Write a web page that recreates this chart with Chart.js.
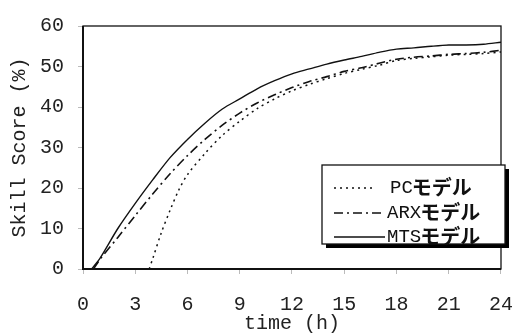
<!DOCTYPE html>
<html>
<head>
<meta charset="utf-8">
<script src="https://cdn.jsdelivr.net/npm/chart.js@4/dist/chart.umd.min.js"></script>
<style>
    body { margin: 0; background: #fff; }
    #wrap { width: 532px; height: 336px; }
</style>
</head>
<body>
<div id="wrap"><canvas id="skillChart" width="532" height="336"></canvas></div>
<script>
// Values (time in hours, skill score in %)
const pcHours  = [3.8, 4, 4.5, 5, 5.5, 6, 7, 8, 9, 10, 11, 12, 13, 14, 15, 16, 17, 18, 19, 20, 21, 22, 23, 24];
const pcScore  = [0, 2.5, 9, 14.5, 19.5, 23.3, 28.5, 33, 36.5, 39.6, 42, 44, 45.6, 47, 48.3, 49.3, 50.3, 51.5, 52, 52.4, 52.8, 53, 53.2, 53.6];

const arxHours = [0.6, 1, 2, 3, 4, 5, 6, 7, 8, 9, 10, 11, 12, 13, 14, 15, 16, 17, 18, 19, 20, 21, 22, 23, 24];
const arxScore = [0, 2.5, 7.8, 13.2, 18.5, 23.5, 28, 32, 35.5, 38.5, 41, 43, 44.8, 46.3, 47.5, 48.8, 49.7, 50.8, 51.8, 52.3, 52.6, 53, 53.2, 53.5, 54];

const mtsHours = [0.5, 1, 2, 3, 4, 5, 6, 7, 8, 9, 10, 11, 12, 13, 14, 15, 16, 17, 18, 19, 20, 21, 22, 23, 24];
const mtsScore = [0, 2.8, 10, 16.2, 22, 27.5, 32, 36, 39.5, 42, 44.5, 46.5, 48.2, 49.4, 50.6, 51.6, 52.5, 53.5, 54.3, 54.6, 55, 55.3, 55.3, 55.5, 56];

const seriesNames = ['PC', 'ARX', 'MTS'];
const nameSuffix = 'モデル';

function toPoints(xs, ys) {
    return xs.map((x, i) => ({ x: x, y: ys[i] }));
}

const monoFont = '"Liberation Mono", "Courier New", monospace';

// Draws the full box around the plot area
const framePlugin = {
    id: 'frame',
    afterDatasetsDraw(chart) {
        const a = chart.chartArea;
        const ctx = chart.ctx;
        ctx.save();
        ctx.strokeStyle = '#111';
        ctx.lineWidth = 1.3;
        ctx.strokeRect(a.left, a.top, a.right - a.left, a.bottom - a.top);
        ctx.lineWidth = 2;
        ctx.beginPath();
        ctx.moveTo(a.left, a.top);
        ctx.lineTo(a.left, a.bottom);
        ctx.lineTo(a.right, a.bottom);
        ctx.stroke();
        ctx.restore();
    }
};

// Boxed legend with drop shadow inside the plot area
const boxLegendPlugin = {
    id: 'boxLegend',
    afterDraw(chart) {
        const ctx = chart.ctx;
        const x0 = 322, y0 = 165, w = 183, h = 79;
        ctx.save();
        ctx.fillStyle = '#000';
        ctx.fillRect(x0 + 4, y0 + 4, w, h);
        ctx.fillStyle = '#fff';
        ctx.fillRect(x0, y0, w, h);
        ctx.strokeStyle = '#111';
        ctx.lineWidth = 1.3;
        ctx.strokeRect(x0, y0, w, h);

        const rows = [187, 212, 236];
        const sampleEnds = [376, 385, 385];
        const textStart = [390, 387, 387];
        chart.data.datasets.forEach((ds, i) => {
            const y = rows[i];
            ctx.strokeStyle = ds.borderColor;
            ctx.lineWidth = ds.borderWidth;
            ctx.setLineDash(ds.borderDash || []);
            ctx.beginPath();
            ctx.moveTo(334, y + 1);
            ctx.lineTo(sampleEnds[i], y + 1);
            ctx.stroke();
            ctx.setLineDash([]);

            ctx.fillStyle = '#111';
            ctx.textBaseline = 'middle';
            ctx.font = '19px ' + monoFont;
            const name = seriesNames[i];
            ctx.fillText(name, textStart[i], y + 1);
            const nw = ctx.measureText(name).width;
            ctx.font = 'bold 20px "Noto Sans CJK JP"';
            ctx.fillText(nameSuffix, textStart[i] + nw - 1, y);
        });
        ctx.restore();
    }
};

const ctx = document.getElementById('skillChart').getContext('2d');
const chart = new Chart(ctx, {
    type: 'line',
    data: {
        datasets: [{
            label: seriesNames[0] + nameSuffix,
            data: toPoints(pcHours, pcScore),
            borderColor: '#111',
            borderWidth: 1.5,
            borderDash: [2, 4],
            pointRadius: 0,
            tension: 0.3
        }, {
            label: seriesNames[1] + nameSuffix,
            data: toPoints(arxHours, arxScore),
            borderColor: '#111',
            borderWidth: 1.6,
            borderDash: [9, 4, 2, 4],
            pointRadius: 0,
            tension: 0.3
        }, {
            label: seriesNames[2] + nameSuffix,
            data: toPoints(mtsHours, mtsScore),
            borderColor: '#111',
            borderWidth: 1.4,
            pointRadius: 0,
            tension: 0.3
        }]
    },
    options: {
        responsive: false,
        animation: false,
        layout: { padding: { left: 8, top: 17, right: 11, bottom: 0 } },
        plugins: {
            legend: { display: false },
            tooltip: { enabled: false }
        },
        scales: {
            x: {
                type: 'linear',
                min: 0,
                max: 24,
                ticks: {
                    stepSize: 3,
                    color: '#222',
                    padding: 19,
                    maxRotation: 0,
                    font: { family: monoFont, size: 20 }
                },
                grid: { drawOnChartArea: false, tickLength: 5, color: '#bbb' },
                border: { display: false },
                title: {
                    display: true,
                    text: 'time (h)',
                    color: '#222',
                    padding: { top: 0, bottom: 0 },
                    font: { family: monoFont, size: 20 }
                },
                afterFit(scale) { scale.height = 67; }
            },
            y: {
                min: 0,
                max: 60,
                ticks: {
                    stepSize: 10,
                    color: '#222',
                    padding: 14,
                    font: { family: monoFont, size: 20 }
                },
                grid: { drawOnChartArea: false, tickLength: 5, color: '#bbb' },
                border: { display: false },
                title: {
                    display: true,
                    text: 'Skill Score (%)',
                    color: '#222',
                    padding: { top: 0, bottom: 0 },
                    font: { family: monoFont, size: 20 }
                },
                afterFit(scale) { scale.width = 75; }
            }
        }
    },
    plugins: [framePlugin, boxLegendPlugin]
});
</script>
</body>
</html>
